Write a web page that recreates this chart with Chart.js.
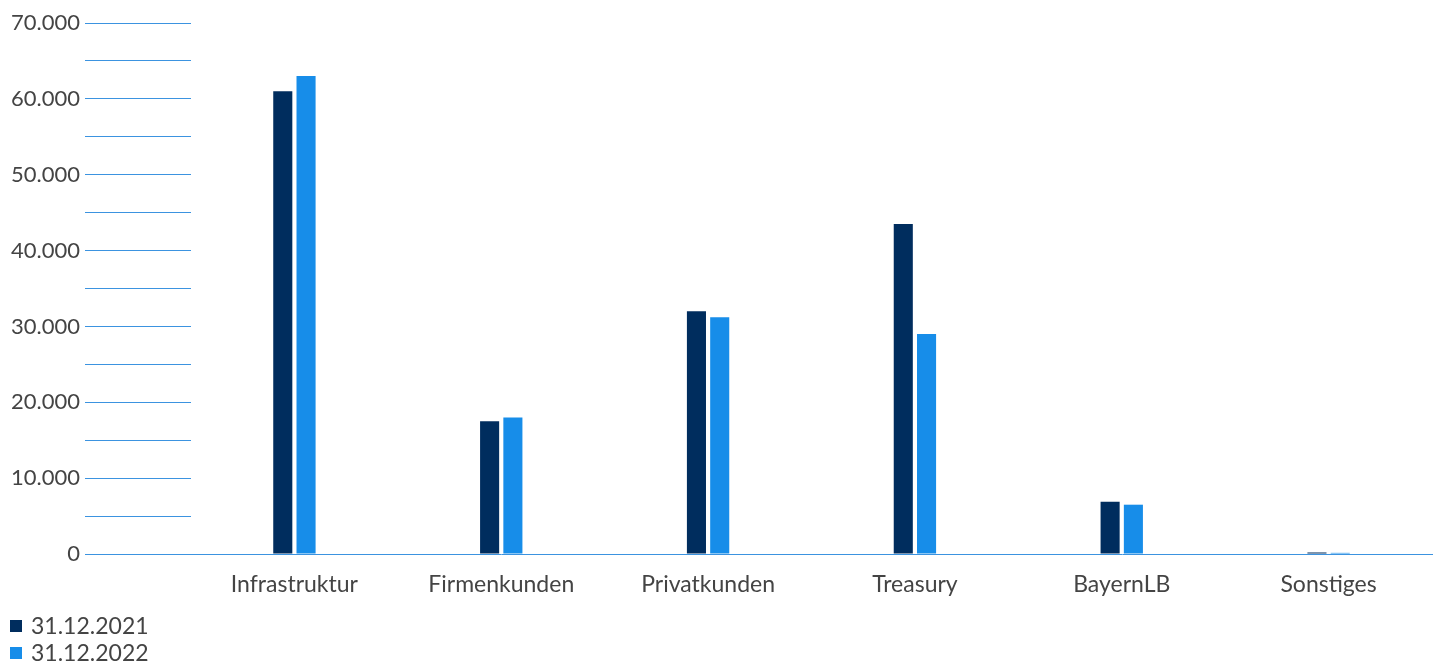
<!DOCTYPE html>
<html>
<head>
<meta charset="utf-8">
<script src="https://cdn.jsdelivr.net/npm/chart.js@4"></script>
<style>
    body { margin: 0; background: #fff; }
    #wrap { position: relative; width: 1440px; height: 664px; }
    #legend { position: absolute; left: 10px; top: 612px; font-family: Lato, sans-serif; font-size: 23px; color: #444; }
    #legend div { height: 27px; line-height: 27px; }
    #legend span { display: inline-block; width: 12px; height: 12px; margin-right: 9px; vertical-align: 2px; }
</style>
</head>
<body>
<div id="wrap">
    <canvas id="segmentChart" width="1440" height="664"></canvas>
    <div id="legend"></div>
</div>
<script>
    const categories = ['Infrastruktur', 'Firmenkunden', 'Privatkunden', 'Treasury', 'BayernLB', 'Sonstiges'];
    const values2021 = [61000, 17500, 32000, 43500, 6900, 200];
    const values2022 = [63000, 18000, 31200, 29000, 6500, 150];
    const seriesLabels = ['31.12.2021', '31.12.2022'];
    const seriesColors = ['#002d5e', '#178de9'];

    const lineBlue = '#3b93e0';
    const textGrey = '#444444';

    // simple html legend, stacked like the original
    document.getElementById('legend').innerHTML = seriesLabels.map((l, i) =>
        `<div><span style="background:${seriesColors[i]}"></span>${l}</div>`).join('');

    const ctx = document.getElementById('segmentChart').getContext('2d');

    new Chart(ctx, {
        type: 'bar',
        data: {
            labels: categories,
            datasets: [
                { label: seriesLabels[0], data: values2021, backgroundColor: seriesColors[0] },
                { label: seriesLabels[1], data: values2022, backgroundColor: seriesColors[1] }
            ]
        },
        options: {
            responsive: false,
            animation: false,
            layout: { padding: { top: 23, right: 8, left: 0, bottom: 0 } },
            datasets: {
                bar: { barPercentage: 0.82, categoryPercentage: 0.225 }
            },
            plugins: {
                legend: { display: false },
                tooltip: { enabled: false }
            },
            scales: {
                x: {
                    grid: { display: false },
                    border: { color: lineBlue, width: 1 },
                    ticks: {
                        color: textGrey,
                        padding: 9,
                        font: { family: 'Lato', size: 23 }
                    },
                    afterFit: function(scale) { scale.height = 110; }
                },
                y: {
                    min: 0,
                    max: 70000,
                    border: { display: false },
                    grid: {
                        drawOnChartArea: false,
                        drawTicks: true,
                        tickLength: 106,
                        color: lineBlue,
                        lineWidth: 1
                    },
                    ticks: {
                        stepSize: 5000,
                        color: textGrey,
                        padding: 5,
                        font: { family: 'Lato', size: 22 },
                        callback: function(value) {
                            if (value % 10000 !== 0) return '';
                            return value.toLocaleString('de-DE');
                        }
                    },
                    afterFit: function(scale) { scale.width = 191; }
                }
            }
        }
    });
</script>
</body>
</html>
